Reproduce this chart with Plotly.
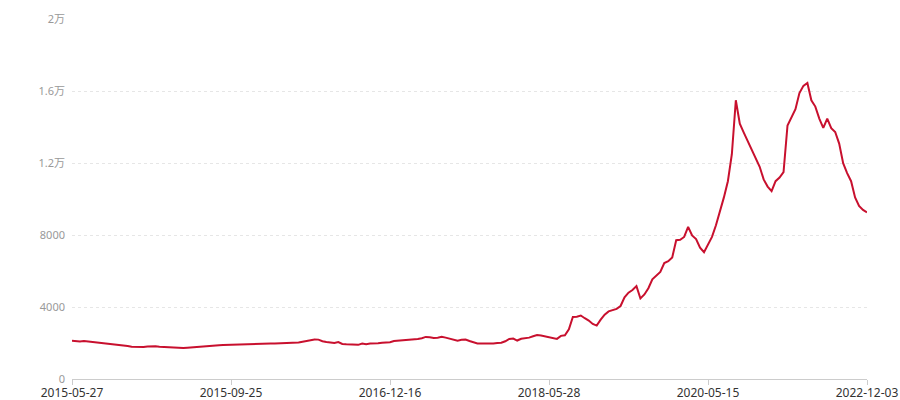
import plotly.graph_objects as go
import pandas as pd

# Anchor dates shown as x tick labels (every 40th category)
tick_dates = ["2015-05-27", "2015-09-25", "2016-12-16", "2018-05-28", "2020-05-15", "2022-12-03"]
steps_per_label = 40

# Series values, 201 points
values = [
    2130, 2100, 2090, 2111, 2090, 2070, 2040, 2020, 1990, 1960,
    1940, 1930, 1900, 1870, 1840, 1800, 1780, 1760, 1780, 1810,
    1830, 1820, 1800, 1790, 1760, 1750, 1730, 1710, 1720, 1740,
    1760, 1800, 1820, 1830, 1850, 1850, 1870, 1880, 1890, 1900,
    1900, 1910, 1920, 1930, 1940, 1945, 1960, 1950, 1955, 1960,
    1970, 1975, 1980, 1990, 1985, 2000, 2010, 2030, 2070, 2120,
    2160, 2200, 2190, 2100, 2060, 2030, 2000, 2050, 1950, 1930,
    1910, 1895, 1900, 1975, 1930, 1970, 1960, 1990, 2020, 2040,
    2040, 2110, 2130, 2130, 2130, 2150, 2180, 2220, 2270, 2340,
    2320, 2280, 2300, 2350, 2300, 2240, 2150, 2130, 2180, 2190,
    2110, 2050, 1980, 1980, 1970, 1970, 1975, 2000, 2020, 2100,
    2230, 2250, 2140, 2240, 2250, 2300, 2380, 2440, 2420, 2380,
    2340, 2280, 2230, 2400, 2430, 2760, 3450, 3460, 3530, 3380,
    3250, 3060, 2970, 3300, 3580, 3760, 3850, 3900, 4060, 4540,
    4800, 4950, 5166, 4480, 4700, 5050, 5540, 5750, 5950, 6450,
    6550, 6760, 7720, 7740, 7900, 8463, 7980, 7780, 7300, 7050,
    7440, 7900, 8550, 9300, 10100, 11000, 12500, 15500, 14200, 13700,
    13200, 12700, 12300, 11800, 11100, 10700, 10450, 11000, 11200, 11500,
    14100, 14600, 15000, 15900, 16300, 16460, 15500, 15150, 14480, 13960,
    14480, 13950, 13740, 13090, 12000, 11450, 11000, 10100, 9620, 9400,
    9270,
]

y_tick_vals = [0, 4000, 8000, 12000, 16000, 20000]
y_tick_text = ["0", "4000", "8000", "1.2万", "1.6万", "2万"]

# Category labels: dates between the labelled anchors
dates = []
for a, b in zip(tick_dates[:-1], tick_dates[1:]):
    seg = pd.date_range(a, b, periods=steps_per_label + 1)
    dates.extend(d.strftime("%Y-%m-%d") for d in seg[:-1])
dates.append(tick_dates[-1])

fig = go.Figure()
fig.add_trace(go.Scatter(
    x=dates, y=values, mode="lines",
    line=dict(color="#C8102E", width=2),
    hoverinfo="x+y",
))

font_family = "Noto Sans, Noto Sans CJK SC, sans-serif"
fig.update_layout(
    width=900, height=400,
    margin=dict(l=72, r=33, t=18.6, b=21, autoexpand=False),
    paper_bgcolor="white", plot_bgcolor="white",
    showlegend=False,
    font=dict(family=font_family, size=12),
    xaxis=dict(
        type="category",
        range=[0, len(dates) - 1],
        automargin=False,
        tickmode="array", tickvals=tick_dates, ticktext=tick_dates,
        showgrid=False, zeroline=False,
        showline=True, linecolor="#cccccc", linewidth=1,
        ticks="outside", ticklen=5, tickcolor="#cccccc",
        ticklabelstandoff=-2,
        tickfont=dict(family="Noto Sans, sans-serif", color="#333333", size=12),
    ),
    yaxis=dict(
        range=[0, 20020],
        automargin=False,
        tickmode="array", tickvals=y_tick_vals, ticktext=y_tick_text,
        showgrid=True, gridcolor="#e6e6e6", griddash="3px,3px",
        zeroline=False, showline=False, ticks="",
        tickfont=dict(family=font_family, color="#999999", size=11),
        ticklabelstandoff=6,
    ),
)

fig.write_html(
    "out.html",
    config={"displayModeBar": False},
    post_script="document.body.style.margin='0';document.body.style.overflow='hidden';",
)
